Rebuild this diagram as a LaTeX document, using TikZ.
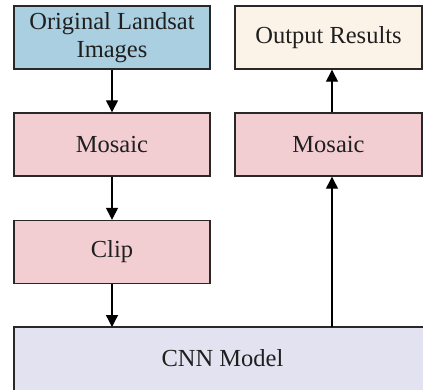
\documentclass[tikz,border=0pt]{standalone}
\usepackage{fontspec}
\setmainfont{Liberation Serif}
\usetikzlibrary{arrows.meta}
\definecolor{cblue}{RGB}{169,207,224}
\definecolor{cpink}{RGB}{242,206,211}
\definecolor{ccream}{RGB}{252,243,232}
\definecolor{clav}{RGB}{226,226,240}
\definecolor{cline}{RGB}{40,40,40}
\begin{document}
\begin{tikzpicture}[x=1pt,y=-1pt,
  box/.style={draw=cline, line width=1.4pt, inner sep=0pt, align=center,
    font=\fontsize{24.5}{28}\selectfont, text=black!88},
  lbl/.style={inner sep=0pt, font=\fontsize{24.5}{28}\selectfont, text=black!88},
  arr/.style={-{Triangle[length=12pt,width=12pt]}, line width=1.3pt, draw=black}]
\useasboundingbox (0,0) rectangle (423,389);
\clip (0,0) rectangle (423,389);
\node[box, fill=cblue, minimum width=196pt, minimum height=63pt] (orig) at (112,37.5) {Original Landsat\\Images};
\node[box, fill=cpink, minimum width=196pt, minimum height=63pt] (mosl) at (112,144.5) {Mosaic};
\node[box, fill=cpink, minimum width=196pt, minimum height=63pt] (clip) at (112,252) {Clip};
\node[box, fill=ccream, minimum width=187pt, minimum height=63pt] (out) at (328.5,37.5) {Output Results};
\node[box, fill=cpink, minimum width=187pt, minimum height=63pt] (mosr) at (328.5,144.5) {Mosaic};
\node[box, fill=clav, minimum width=417pt, minimum height=74pt] (cnn) at (222.5,364) {};
\node[lbl] (cnnlabel) at (222.5,358) {CNN Model};
\coordinate (c1) at (112,327);
\coordinate (c2) at (332,327);
\draw[arr] (orig.south) -- (mosl.north);
\draw[arr] (mosl.south) -- (clip.north);
\draw[arr] (clip.south) -- (c1);
\draw[arr] (c2) -- (c2 |- mosr.south);
\draw[arr] (c2 |- mosr.north) -- (c2 |- out.south);
\end{tikzpicture}
\end{document}
